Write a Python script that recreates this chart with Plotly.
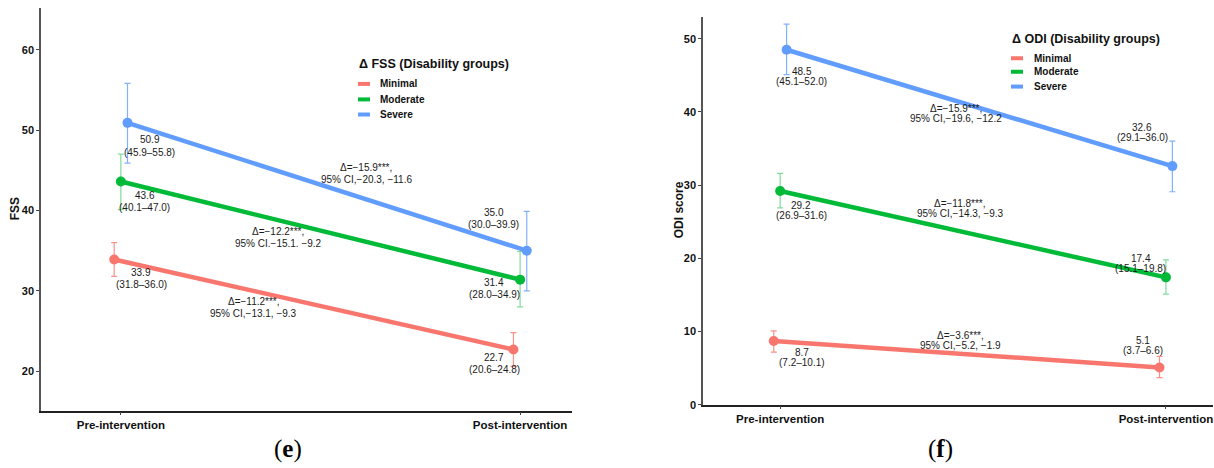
import plotly.graph_objects as go

# ---------------- data ----------------
GROUPS = ["Minimal", "Moderate", "Severe"]
TIMES = ["Pre-intervention", "Post-intervention"]

FSS_MEAN = [[33.9, 22.7], [43.6, 31.4], [50.9, 35.0]]
FSS_LOW = [[31.8, 20.6], [40.1, 28.0], [45.9, 30.0]]
FSS_HIGH = [[36.0, 24.8], [47.0, 34.9], [55.8, 39.9]]
FSS_DELTA = ["Δ=−11.2***,", "Δ=−12.2***,", "Δ=−15.9***,"]
FSS_DELTA_CI = ["95% CI,−13.1, −9.3", "95% CI.−15.1. −9.2", "95% CI,−20.3, −11.6"]

ODI_MEAN = [[8.7, 5.1], [29.2, 17.4], [48.5, 32.6]]
ODI_LOW = [[7.2, 3.7], [26.9, 15.1], [45.1, 29.1]]
ODI_HIGH = [[10.1, 6.6], [31.6, 19.8], [52.0, 36.0]]
ODI_DELTA = ["Δ=−3.6***,", "Δ=−11.8***,", "Δ=−15.9***,"]
ODI_DELTA_CI = ["95% CI,−5.2, −1.9", "95% CI,−14.3, −9.3", "95% CI,−19.6, −12.2"]

FSS_TICKS = [20, 30, 40, 50, 60]
ODI_TICKS = [0, 10, 20, 30, 40, 50]

# ---------------- style / layout ----------------
W, H = 1214, 468
COLORS = ["#F8766D", "#00BA38", "#619CFF"]
ERR_COLORS = ["rgba(248,118,109,0.8)", "rgba(0,186,56,0.5)", "rgba(97,156,255,0.8)"]
DODGE = [-1 / 60, 0.0, 1 / 60]
POS = [1, 2]
FONT = "Liberation Sans, Arial, sans-serif"

# label shifts in px (xshift, yshift) for [pre, post] per group
FSS_LBL = [[(27, -19), (-19, -14)], [(24, -20), (-26, -9)], [(22, -23), (-33, 32)]]
ODI_LBL = [[(28, -16), (-17, 22)], [(21, -19), (-25, 13.5)], [(15, -27), (-30, 33.5)]]
FSS_DLBL = [(-60, -3), (-42, -7), (39, 13.5)]
ODI_DLBL = [(-6, 14), (-13, 25.6), (-23, -6)]


def px(x):
    return x / W


def py(y):
    return 1 - y / H


fig = go.Figure()
annotations = []
shapes = []

panels = [
    dict(xa="x", ya="y", mean=FSS_MEAN, low=FSS_LOW, high=FSS_HIGH, d=FSS_DELTA,
         dci=FSS_DELTA_CI, lbl=FSS_LBL, dlbl=FSS_DLBL, gap=12.3),
    dict(xa="x2", ya="y2", mean=ODI_MEAN, low=ODI_LOW, high=ODI_HIGH, d=ODI_DELTA,
         dci=ODI_DELTA_CI, lbl=ODI_LBL, dlbl=ODI_DLBL, gap=10),
]

TXT = dict(family=FONT, size=10, color="#1a1a1a")

for p in panels:
    for g in range(3):
        xs = [POS[t] + DODGE[g] for t in range(2)]
        m = p["mean"][g]
        lo = p["low"][g]
        hi = p["high"][g]
        fig.add_trace(go.Scatter(
            x=xs, y=m, mode="lines+markers", name=GROUPS[g],
            line=dict(color=COLORS[g], width=4.5),
            marker=dict(size=10, color=COLORS[g]),
            error_y=dict(type="data", symmetric=False,
                         array=[hi[t] - m[t] for t in range(2)],
                         arrayminus=[m[t] - lo[t] for t in range(2)],
                         color=ERR_COLORS[g], thickness=1.2, width=3),
            xaxis=p["xa"], yaxis=p["ya"], showlegend=False, hoverinfo="skip"))
        # value labels
        for t in range(2):
            dx, dy = p["lbl"][g][t]
            txt1 = f"{m[t]:.1f}"
            txt2 = f"({lo[t]:.1f}–{hi[t]:.1f})"
            for txt, off in ((txt1, p["gap"] / 2), (txt2, -p["gap"] / 2)):
                annotations.append(dict(
                    x=xs[t], y=m[t], xref=p["xa"], yref=p["ya"], text=txt,
                    showarrow=False, xshift=dx, yshift=dy + off,
                    xanchor="center", yanchor="middle", font=TXT))
        # delta labels
        dx, dy = p["dlbl"][g]
        mx = sum(xs) / 2
        my = sum(m) / 2
        for txt, off in ((p["d"][g], p["gap"] / 2), (p["dci"][g], -p["gap"] / 2)):
            annotations.append(dict(
                x=mx, y=my, xref=p["xa"], yref=p["ya"], text=txt,
                showarrow=False, xshift=dx, yshift=dy + off,
                xanchor="center", yanchor="middle", font=TXT))

# legends (manual, ggplot style)
legends = [
    dict(title="Δ FSS (Disability groups)", tx=357, ty=65, lx0=358, lx1=370,
         ys=[85, 100.7, 116], textx=378),
    dict(title="Δ ODI (Disability groups)", tx=1010, ty=40, lx0=1011, lx1=1023,
         ys=[59, 72.7, 87.7], textx=1032),
]
for L in legends:
    annotations.append(dict(x=px(L["tx"]), y=py(L["ty"]), xref="paper", yref="paper",
                            text="<b>" + L["title"] + "</b>", showarrow=False,
                            xanchor="left", yanchor="middle",
                            font=dict(family=FONT, size=12.5, color="#111")))
    for g in range(3):
        shapes.append(dict(type="line", xref="paper", yref="paper",
                           x0=px(L["lx0"]), x1=px(L["lx1"]),
                           y0=py(L["ys"][g]), y1=py(L["ys"][g]),
                           line=dict(color=COLORS[g], width=4)))
        annotations.append(dict(x=px(L["textx"]), y=py(L["ys"][g]), xref="paper",
                                yref="paper", text="<b>" + GROUPS[g] + "</b>",
                                showarrow=False, xanchor="left", yanchor="middle",
                                font=dict(family=FONT, size=10, color="#111")))

# axis titles
annotations.append(dict(x=px(15), y=py(212), xref="paper", yref="paper", text="<b>FSS</b>",
                        textangle=-90, showarrow=False, xanchor="center", yanchor="middle",
                        font=dict(family=FONT, size=12, color="#111")))
annotations.append(dict(x=px(679), y=py(213), xref="paper", yref="paper",
                        text="<b>ODI score</b>", textangle=-90, showarrow=False,
                        xanchor="center", yanchor="middle",
                        font=dict(family=FONT, size=12, color="#111")))

# panel letters
SERIF = "Liberation Serif, Times New Roman, serif"
annotations.append(dict(x=px(288), y=py(455), xref="paper", yref="paper",
                        text="(<b>e</b>)", showarrow=False, xanchor="center",
                        yanchor="middle", font=dict(family=SERIF, size=25, color="#000")))
annotations.append(dict(x=px(940), y=py(455), xref="paper", yref="paper",
                        text="(<b>f</b>)", showarrow=False, xanchor="center",
                        yanchor="middle", font=dict(family=SERIF, size=25, color="#000")))

xcommon = dict(tickvals=POS, ticktext=TIMES, showline=True, linecolor="#222", linewidth=1.5,
               ticks="outside", ticklen=3, tickcolor="#444", showgrid=False, zeroline=False,
               tickfont=dict(family=FONT, size=11.5, color="#111", weight="bold"))
ycommon = dict(showline=True, linecolor="#555", linewidth=1.5, ticks="outside", ticklen=3,
               tickcolor="#444", showgrid=False, zeroline=False,
               tickfont=dict(family=FONT, size=11, color="#111", weight="bold"))

fig.update_layout(
    width=W, height=H, margin=dict(l=0, r=0, t=0, b=0),
    paper_bgcolor="white", plot_bgcolor="white",
    xaxis=dict(domain=[px(41), px(572)], range=[0.8, 2.13], anchor="y", **xcommon),
    yaxis=dict(domain=[py(416), py(8)], range=[15.1, 65.2], tickvals=FSS_TICKS,
               anchor="x", **ycommon),
    xaxis2=dict(domain=[px(703), px(1213)], range=[0.8, 2.122], anchor="y2", **xcommon),
    yaxis2=dict(domain=[py(410), py(17)], range=[0, 53], tickvals=ODI_TICKS,
                anchor="x2", **ycommon),
    annotations=annotations, shapes=shapes, showlegend=False,
)

fig.write_html("out.html", config={"displayModeBar": False},
               post_script="document.body.style.margin='0';")
